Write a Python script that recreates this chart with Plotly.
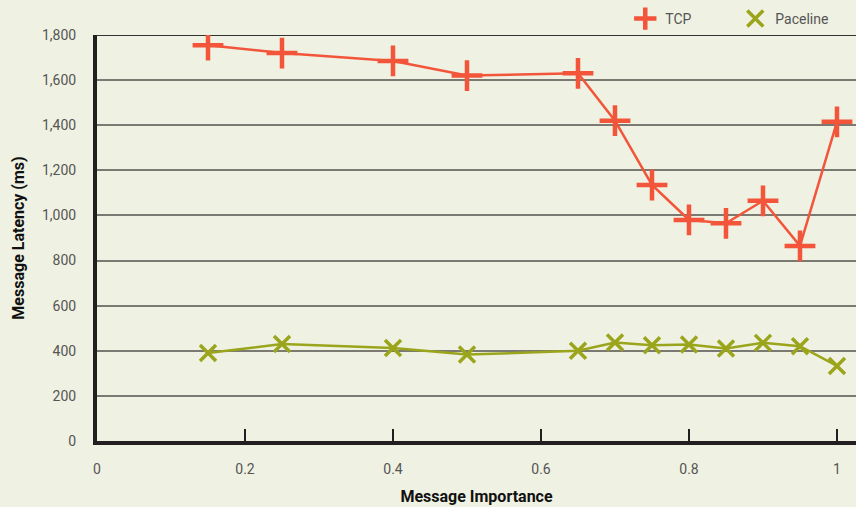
import plotly.graph_objects as go

importance = [0.15, 0.25, 0.4, 0.5, 0.65, 0.7, 0.75, 0.8, 0.85, 0.9, 0.95, 1.0]
tcp = [1755, 1720, 1685, 1620, 1630, 1420, 1135, 980, 965, 1065, 865, 1415]
paceline = [390, 430, 412, 383, 400, 437, 425, 428, 410, 435, 420, 333]
x_ticks = [0, 0.2, 0.4, 0.6, 0.8, 1]
x_tick_text = ["0", "0.2", "0.4", "0.6", "0.8", "1"]
y_ticks = [0, 200, 400, 600, 800, 1000, 1200, 1400, 1600, 1800]

RED = "#F2553A"
OLIVE = "#9BA51C"
BG = "#EFF1E2"

series = [
    ("TCP", tcp, RED, "cross-thin", 22, 4.5),
    ("Paceline", paceline, OLIVE, "x-thin", 16, 3.5),
]

fig = go.Figure()
for name, vals, col, sym, size, lw in series:
    fig.add_trace(go.Scatter(
        x=importance, y=vals, name=name, mode="lines+markers", showlegend=False,
        line=dict(color=col, width=2.5),
        marker=dict(symbol=sym, size=size, line=dict(color=col, width=lw), color=col),
    ))
for name, vals, col, sym, size, lw in series:
    # legend-only entry (markers only, as in the reference)
    fig.add_trace(go.Scatter(
        x=[None], y=[None], name=name, mode="markers", showlegend=True,
        marker=dict(symbol=sym, size=size, line=dict(color=col, width=lw), color=col),
    ))

fig.add_shape(type="line", xref="paper", x0=0, x1=1, yref="y", y0=1800, y1=1800,
              line=dict(color="#333333", width=2), layer="below")

fig.update_layout(
    width=856, height=507,
    margin=dict(l=97, r=0, t=35, b=66, autoexpand=False),
    paper_bgcolor=BG, plot_bgcolor=BG,
    font=dict(family="Roboto", size=14, color="#555555"),
    showlegend=True,
    legend=dict(orientation="h", x=0.696, xanchor="left", y=1.0, yanchor="bottom",
                bgcolor="rgba(0,0,0,0)", font=dict(size=14, color="#555555"),
                itemwidth=30, entrywidth=65, entrywidthmode="pixels", itemsizing="trace"),
    xaxis=dict(
        range=[0, 1.0257], tickvals=x_ticks, ticktext=x_tick_text,
        showgrid=False, zeroline=False,
        showline=True, linecolor="#231f20", linewidth=4,
        ticks="inside", ticklen=12, tickwidth=2, tickcolor="#231f20",
        ticklabelstandoff=12,
        title=dict(text="<b>Message Importance</b>", font=dict(size=16, color="#111111"), standoff=16),
    ),
    yaxis=dict(
        range=[0, 1800], tickvals=y_ticks, tickformat=",",
        showgrid=True, gridcolor="#7a7a72", gridwidth=1.5,
        zeroline=False,
        showline=True, linecolor="#231f20", linewidth=4,
        ticks="", ticklabelstandoff=14,
        title=dict(text="<b>Message Latency (ms)</b>", font=dict(size=16, color="#111111"), standoff=14),
    ),
)

fig.write_html("out.html", config={"displayModeBar": False},
               post_script="document.body.style.margin='0';document.body.style.overflow='hidden';")
